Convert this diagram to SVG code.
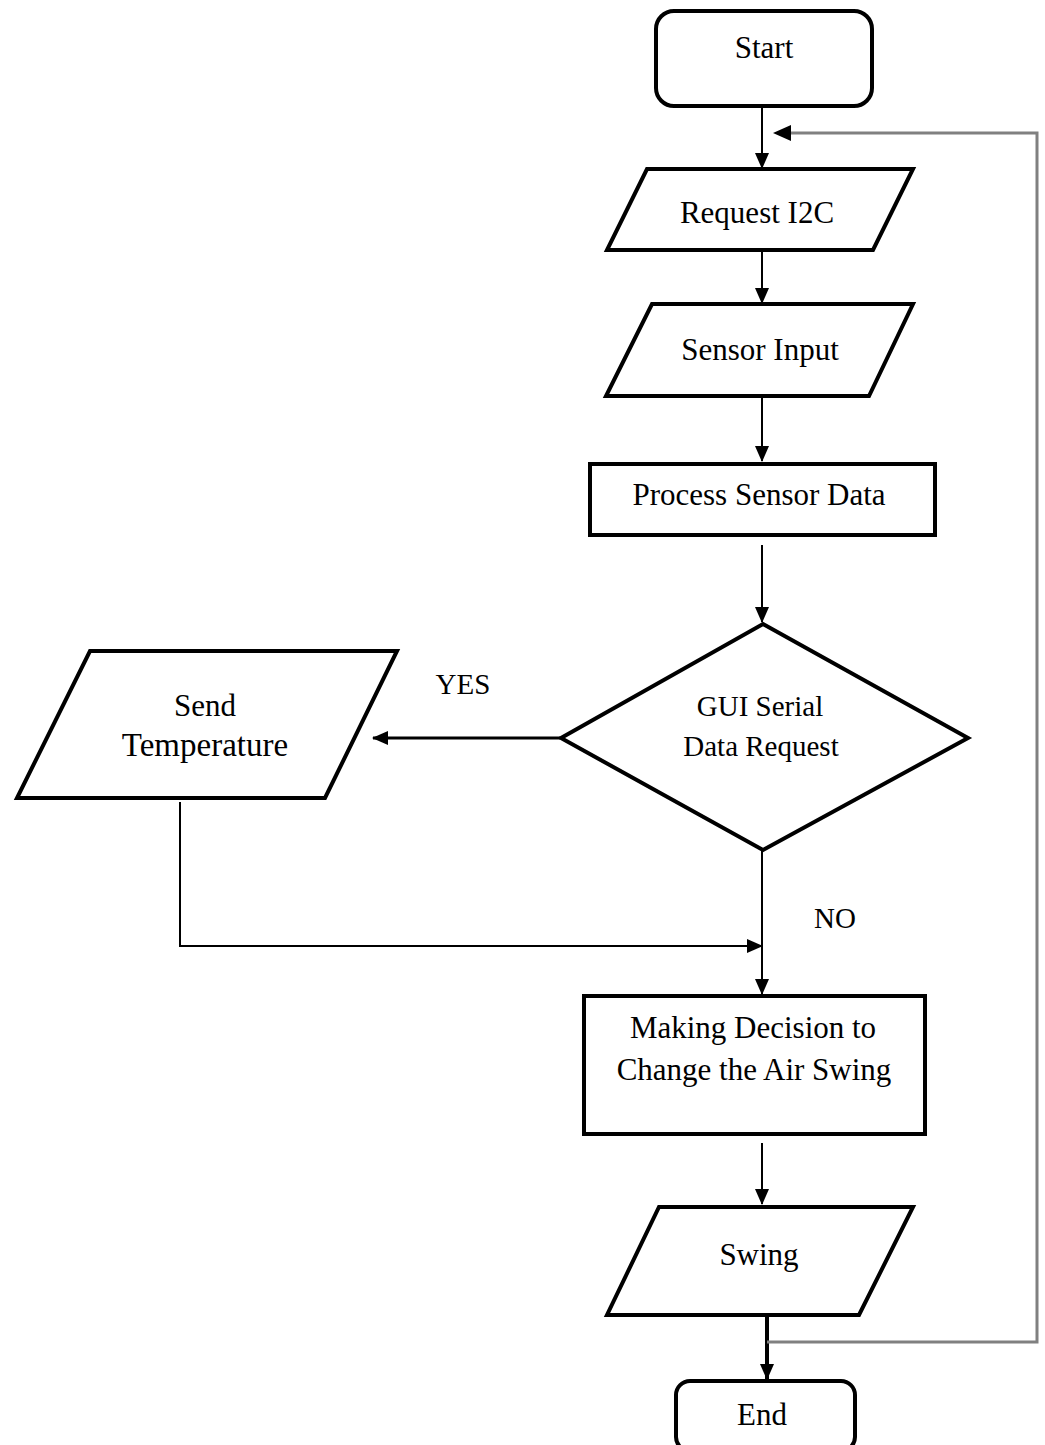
<svg xmlns="http://www.w3.org/2000/svg" width="1045" height="1445" viewBox="0 0 1045 1445">
<style>
.node{fill:#fff;stroke:#000;stroke-width:4;stroke-linejoin:miter}
.t{font-family:"Liberation Serif","Times New Roman",serif;font-size:31px;fill:#000;text-anchor:middle}
.sm{font-size:29px}
.c{fill:none;stroke:#000;stroke-width:2}
.loop{fill:none;stroke:#808080;stroke-width:3}
</style>
<defs>
<marker id="ah" markerWidth="16" markerHeight="14" refX="15" refY="7" orient="auto" markerUnits="userSpaceOnUse">
<path d="M0,0 L16,7 L0,14 Z" fill="#000"/>
</marker>
</defs>
<rect x="0" y="0" width="1045" height="1445" fill="#fff"/>
<g id="connectors">
<line class="c" x1="762" y1="107" x2="762" y2="168" marker-end="url(#ah)"/>
<line class="c" x1="762" y1="250" x2="762" y2="303" marker-end="url(#ah)"/>
<line class="c" x1="762" y1="396" x2="762" y2="461" marker-end="url(#ah)"/>
<line class="c" x1="762" y1="545" x2="762" y2="622" marker-end="url(#ah)"/>
<line class="c" x1="560" y1="738" x2="373" y2="738" style="stroke-width:3" marker-end="url(#ah)"/>
<line class="c" x1="762" y1="850" x2="762" y2="994" marker-end="url(#ah)"/>
<polyline class="c" points="180,802 180,946 762,946" marker-end="url(#ah)"/>
<line class="c" x1="762" y1="1143" x2="762" y2="1204" marker-end="url(#ah)"/>
<line class="c" x1="767" y1="1315" x2="767" y2="1379" style="stroke-width:4" marker-end="url(#ah)"/>
<polyline class="loop" points="767,1342 1037,1342 1037,133 788,133"/>
<path d="M773,133 L791,125 L791,141 Z" fill="#000"/>
</g>
<g id="start">
<rect class="node" x="656" y="11" width="216" height="95" rx="18"/>
<text class="t" x="764" y="58">Start</text>
</g>
<g id="request-i2c">
<polygon class="node" points="647,169 913,169 873,250 607,250"/>
<text class="t" x="757" y="223">Request I2C</text>
</g>
<g id="sensor-input">
<polygon class="node" points="652,304 913,304 869,396 606,396"/>
<text class="t" x="760" y="360">Sensor Input</text>
</g>
<g id="process-sensor-data">
<rect class="node" x="590" y="464" width="345" height="71"/>
<text class="t" x="759" y="505">Process Sensor Data</text>
</g>
<g id="gui-serial">
<polygon class="node" points="763,624 968,738 763,850 561,738"/>
<text class="t sm" x="760" y="716">GUI Serial</text>
<text class="t sm" x="761" y="756">Data Request</text>
</g>
<g id="send-temperature">
<polygon class="node" points="90,651 397,651 325,798 17,798"/>
<text class="t" x="205" y="716">Send</text>
<text class="t" x="205" y="756" style="font-size:33px">Temperature</text>
</g>
<text class="t sm" x="463" y="694">YES</text>
<text class="t sm" x="835" y="928">NO</text>
<g id="making-decision">
<rect class="node" x="584" y="996" width="341" height="138"/>
<text class="t" x="753" y="1038">Making Decision to</text>
<text class="t" x="754" y="1080">Change the Air Swing</text>
</g>
<g id="swing">
<polygon class="node" points="659,1207 913,1207 859,1315 607,1315"/>
<text class="t" x="759" y="1265">Swing</text>
</g>
<g id="end">
<rect class="node" x="676" y="1381" width="179" height="70" rx="14"/>
<text class="t" x="762" y="1425">End</text>
</g>
</svg>
